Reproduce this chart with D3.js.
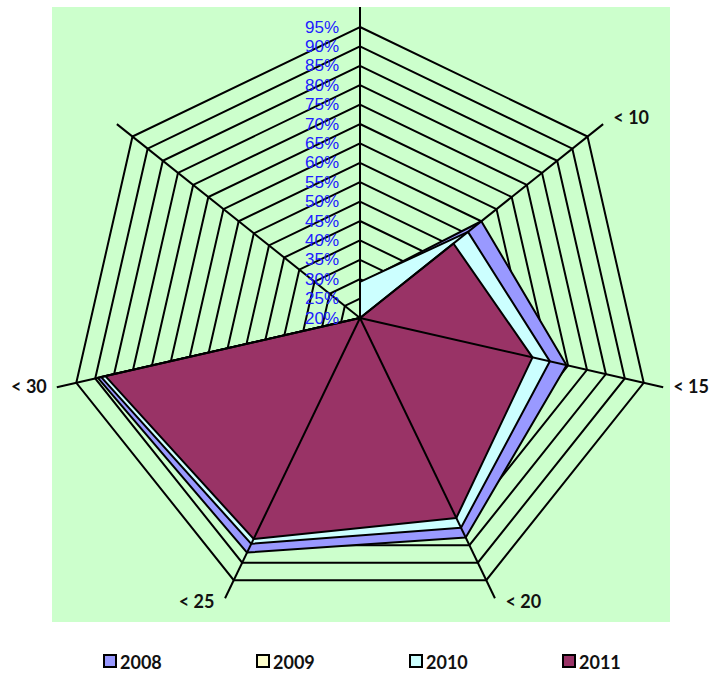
<!DOCTYPE html>
<html lang="en">
<head>
<meta charset="UTF-8">
<script src="https://d3js.org/d3.v7.min.js"></script>
<style>
  body { margin: 0; background: #fff; }
  .tick { font-family: "Liberation Sans", Arial, sans-serif; font-size: 17px; fill: #2020ff; }
  .cat { font-family: Lato, "Open Sans", sans-serif; font-size: 18px; font-weight: bold; fill: #111; }
  .legend text { font-family: Lato, "Open Sans", sans-serif; font-size: 18px; font-weight: bold; fill: #111; }
</style>
</head>
<body>
<div id="chart"></div>
<script>
// Data (percent values; scale runs 20% at the centre to 95% on the outer ring)
const categories = ["", "< 10", "< 15", "< 20", "< 25", "< 30", ""];
const years = ["2008", "2009", "2010", "2011"];
const values2008 = [29, 60, 74.6, 82.8, 87.1, 89.3, 0];
const values2009 = [26, 0, 0, 0, 0, 0, 0];
const values2010 = [29.3, 55.6, 70.2, 80, 84.6, 88.4, 0];
const values2011 = [0, 50.8, 65.6, 77.2, 83.2, 87.3, 0];
const ticks = d3.range(20, 96, 5);
const colors = ["#9999ff", "#ffffcc", "#ccffff", "#993366"];

const series = years.map((y, i) => ({ year: y, values: [values2008, values2009, values2010, values2011][i], color: colors[i] }));

const width = 712, height = 673;
const cx = 360, cy = 318;
const outerR = 291;

const svg = d3.select("#chart").append("svg")
  .attr("width", width)
  .attr("height", height);

// plot area
svg.append("rect")
  .attr("x", 52).attr("y", 7)
  .attr("width", 618).attr("height", 615)
  .attr("fill", "#ccffcc");

const r = d3.scaleLinear().domain([20, 95]).range([0, outerR]).clamp(true);
const n = categories.length;
const angle = i => -Math.PI / 2 + i * 2 * Math.PI / n;
const pt = (i, rad) => [cx + rad * Math.cos(angle(i)), cy + rad * Math.sin(angle(i))];

const g = svg.append("g");

// rings
g.selectAll(".ring")
  .data(ticks.slice(1))
  .join("polygon")
  .attr("points", t => d3.range(n).map(i => pt(i, r(t))).join(" "))
  .attr("fill", "none")
  .attr("stroke", "#000")
  .attr("stroke-width", 2);

// series areas
g.selectAll(".area")
  .data(series)
  .join("polygon")
  .attr("points", s => s.values.map((v, i) => pt(i, r(v))).join(" "))
  .attr("fill", s => s.color)
  .attr("stroke", "#000")
  .attr("stroke-width", 2)
  .attr("stroke-linejoin", "round");

// spokes, drawn over the areas
g.selectAll(".spoke")
  .data(d3.range(n))
  .join("line")
  .attr("x1", cx).attr("y1", cy)
  .attr("x2", i => pt(i, outerR + 20)[0])
  .attr("y2", i => pt(i, outerR + 20)[1])
  .attr("stroke", "#000")
  .attr("stroke-width", 2);

// tick labels
svg.selectAll(".tick")
  .data(ticks)
  .join("text")
  .attr("class", "tick")
  .attr("x", cx - 21)
  .attr("y", t => cy - r(t))
  .attr("text-anchor", "end")
  .attr("dominant-baseline", "central")
  .text(t => t + "%");

// category labels
svg.selectAll(".cat")
  .data(categories.map((c, i) => ({ c, i })).filter(d => d.c))
  .join("text")
  .attr("class", "cat")
  .attr("x", d => {
    const [x] = pt(d.i, outerR + 19);
    const c = Math.cos(angle(d.i));
    return x + (c > 0 ? 11 : -11);
  })
  .attr("y", d => pt(d.i, outerR + 19)[1] + 7 * Math.sin(angle(d.i)) - 3)
  .attr("text-anchor", d => Math.cos(angle(d.i)) > 0 ? "start" : "end")
  .attr("dominant-baseline", "central")
  .text(d => d.c);

// legend
const legend = svg.append("g").attr("class", "legend")
  .selectAll("g")
  .data(series)
  .join("g")
  .attr("transform", (d, i) => `translate(${104 + i * 153},661)`);

legend.append("rect")
  .attr("x", 0).attr("y", -6)
  .attr("width", 12).attr("height", 12)
  .attr("fill", d => d.color)
  .attr("stroke", "#000")
  .attr("stroke-width", 2);

legend.append("text")
  .attr("x", 16)
  .attr("y", 1)
  .attr("dominant-baseline", "central")
  .text(d => d.year);
</script>
</body>
</html>
